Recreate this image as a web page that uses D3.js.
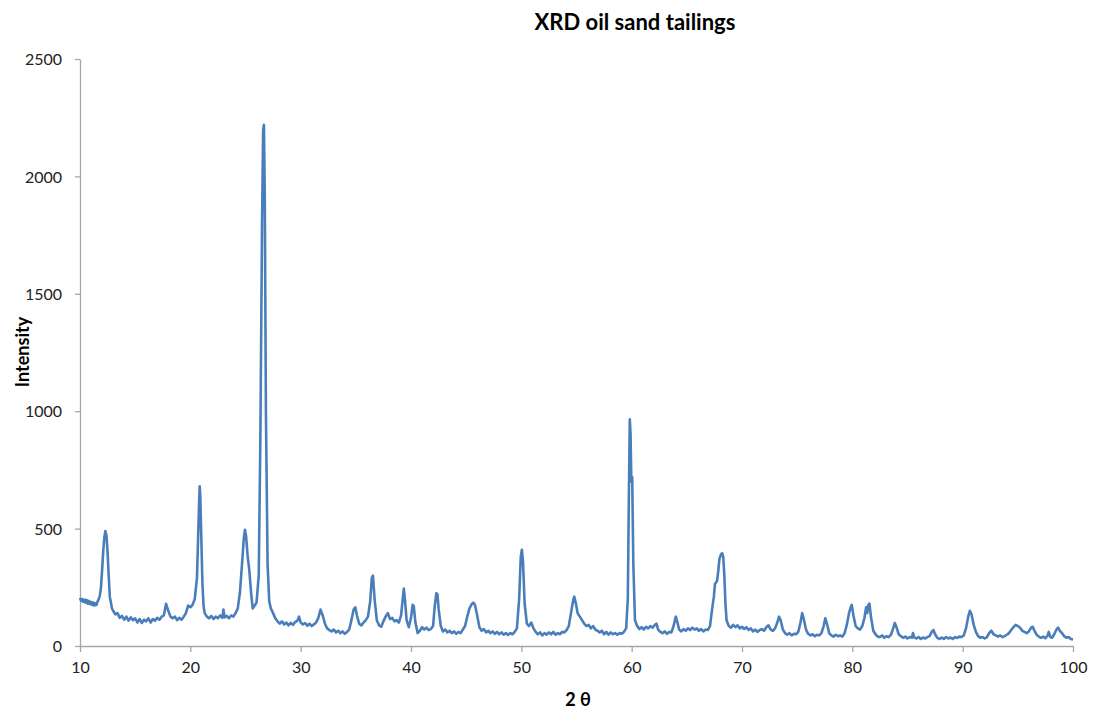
<!DOCTYPE html>
<html>
<head>
<meta charset="utf-8">
<script src="https://cdn.jsdelivr.net/npm/d3@7"></script>
<style>
  body { margin: 0; background: #fff; }
  svg { display: block; font-family: Lato, "Open Sans", sans-serif; }
  .axis path, .axis line { stroke: #a6a6a6; stroke-width: 1.3; }
  .axis text { fill: #222; font-size: 16px; font-family: Lato, "Open Sans", sans-serif; }
</style>
</head>
<body>
<div id="chart"></div>
<script>
/********* data *********/
var twoTheta = [
  10.0,10.1,10.2,10.3,10.4,10.5,10.6,10.7,10.8,10.9,11.0,11.1,11.2,11.3,11.4,11.5,11.6,11.7,11.8,11.9,
  12.0,12.1,12.2,12.3,12.4,12.5,12.6,12.7,12.8,12.9,13.0,13.2,13.4,13.6,13.8,14.0,14.2,14.4,14.6,14.8,
  15.0,15.2,15.4,15.6,15.8,16.0,16.2,16.4,16.6,16.8,17.0,17.2,17.4,17.6,17.8,18.0,18.2,18.4,18.6,18.8,
  19.0,19.2,19.4,19.6,19.8,20.0,20.2,20.4,20.6,20.7,20.8,20.85,20.9,21.0,21.1,21.2,21.3,21.5,21.7,21.9,
  22.1,22.3,22.5,22.7,22.9,23.0,23.1,23.3,23.5,23.7,23.9,24.1,24.3,24.5,24.7,24.85,24.95,25.05,25.2,25.35,
  25.5,25.65,25.8,26.0,26.2,26.35,26.5,26.6,26.67,26.75,26.85,27.0,27.15,27.3,27.5,27.7,27.9,28.1,28.3,28.5,
  28.7,28.9,29.1,29.3,29.5,29.7,29.85,30.0,30.2,30.4,30.6,30.8,31.0,31.2,31.4,31.6,31.8,32.0,32.2,32.4,
  32.6,32.8,33.0,33.2,33.4,33.6,33.8,34.0,34.2,34.4,34.6,34.8,34.95,35.1,35.3,35.5,35.7,35.9,36.1,36.3,
  36.45,36.55,36.7,36.9,37.1,37.3,37.5,37.7,37.9,38.1,38.3,38.5,38.7,38.9,39.1,39.25,39.35,39.45,39.6,39.8,
  40.0,40.15,40.25,40.4,40.6,40.8,41.0,41.2,41.4,41.6,41.8,42.0,42.15,42.3,42.4,42.5,42.7,42.9,43.1,43.3,
  43.5,43.7,43.9,44.1,44.3,44.5,44.7,44.9,45.1,45.3,45.5,45.65,45.8,46.0,46.2,46.4,46.6,46.8,47.0,47.2,
  47.4,47.6,47.8,48.0,48.2,48.4,48.6,48.8,49.0,49.2,49.4,49.6,49.8,49.95,50.05,50.15,50.3,50.5,50.7,50.9,
  51.1,51.3,51.5,51.7,51.9,52.1,52.3,52.5,52.7,52.9,53.1,53.3,53.5,53.7,53.9,54.1,54.3,54.5,54.7,54.8,
  54.95,55.1,55.3,55.5,55.7,55.9,56.1,56.3,56.5,56.7,56.9,57.1,57.3,57.5,57.7,57.9,58.1,58.3,58.5,58.7,
  58.9,59.1,59.3,59.5,59.65,59.75,59.83,59.9,59.97,60.05,60.15,60.3,60.5,60.7,60.9,61.1,61.3,61.5,61.7,61.9,
  62.1,62.25,62.4,62.6,62.8,63.0,63.2,63.4,63.6,63.8,64.0,64.15,64.3,64.5,64.7,64.9,65.1,65.3,65.5,65.7,
  65.9,66.1,66.3,66.5,66.7,66.9,67.1,67.3,67.45,67.55,67.65,67.75,67.85,67.95,68.1,68.2,68.3,68.4,68.5,68.6,
  68.8,69.0,69.2,69.4,69.6,69.8,70.0,70.2,70.4,70.6,70.8,71.0,71.2,71.4,71.6,71.8,72.0,72.2,72.4,72.6,
  72.8,73.0,73.2,73.35,73.5,73.7,73.9,74.1,74.3,74.5,74.7,74.9,75.1,75.3,75.45,75.6,75.8,76.0,76.2,76.4,
  76.6,76.8,77.0,77.2,77.4,77.55,77.7,77.9,78.1,78.3,78.5,78.7,78.9,79.1,79.3,79.5,79.7,79.85,79.95,80.1,
  80.3,80.5,80.7,80.9,81.1,81.25,81.35,81.45,81.55,81.7,81.9,82.1,82.3,82.5,82.7,82.9,83.1,83.3,83.5,83.7,
  83.85,84.0,84.2,84.4,84.6,84.8,85.0,85.2,85.4,85.5,85.6,85.8,86.0,86.2,86.4,86.6,86.8,87.0,87.2,87.35,
  87.5,87.7,87.9,88.1,88.3,88.5,88.7,88.9,89.1,89.3,89.5,89.7,89.9,90.1,90.3,90.5,90.65,90.8,91.0,91.2,
  91.4,91.6,91.8,92.0,92.2,92.4,92.6,92.8,93.0,93.2,93.4,93.6,93.8,94.0,94.2,94.4,94.6,94.8,95.0,95.2,
  95.4,95.6,95.8,96.0,96.2,96.35,96.5,96.7,96.9,97.1,97.3,97.5,97.7,97.8,97.95,98.1,98.3,98.5,98.65,98.8,
  99.0,99.2,99.4,99.6,99.8,100.0
];

var intensity = [
  205,192,200,188,198,185,196,180,192,178,188,175,186,172,182,175,190,200,215,250,
  320,400,460,490,470,400,300,210,185,160,150,135,140,120,128,112,125,108,122,110,
  118,100,115,98,112,105,118,100,115,108,120,112,125,130,180,150,125,118,125,110,
  120,112,125,140,172,165,175,200,290,450,620,680,640,450,260,170,140,125,118,128,
  115,125,118,130,120,155,122,128,118,130,125,140,160,230,360,460,495,470,380,320,
  230,160,170,185,300,900,1800,2200,2220,1900,1000,350,190,160,140,118,105,95,105,92,
  100,88,98,90,102,108,125,100,92,98,86,95,85,92,100,120,155,130,95,75,
  68,62,70,58,65,55,62,52,60,70,110,155,165,130,95,88,100,110,125,190,
  290,300,200,110,88,82,105,125,140,115,120,105,110,100,130,200,245,200,110,80,
  120,175,170,100,55,65,80,70,78,68,72,85,170,225,220,160,85,62,70,58,
  65,55,62,52,60,55,70,85,125,160,178,185,175,130,80,65,72,58,65,55,
  62,52,60,50,58,48,55,47,55,50,60,75,200,380,410,360,180,95,85,100,
  75,60,50,58,45,55,48,58,50,60,48,55,50,60,58,68,85,140,195,210,
  180,140,125,110,95,85,90,75,85,70,65,58,65,50,60,48,58,50,55,48,
  55,52,60,75,200,650,965,900,700,720,350,110,85,72,80,70,82,75,85,78,
  90,95,70,60,55,62,52,60,58,85,125,100,70,62,72,65,75,68,78,70,
  75,65,72,62,70,68,85,160,210,265,270,280,320,370,390,395,380,300,180,110,
  85,78,90,80,88,75,82,72,80,68,75,62,70,60,68,72,65,80,88,70,
  65,75,100,125,110,70,55,48,55,45,52,50,60,100,140,115,70,52,45,50,
  42,48,45,55,85,118,95,55,45,40,48,42,45,40,55,90,140,165,175,130,
  85,75,70,85,120,165,140,175,180,120,65,50,40,38,45,35,42,38,48,75,
  98,80,50,42,35,40,32,38,35,55,38,32,38,30,36,32,38,42,60,68,
  50,35,30,36,30,38,32,36,30,38,34,40,38,45,75,125,150,135,90,60,
  42,35,38,32,38,55,65,50,45,40,45,38,42,48,55,68,80,90,85,78,
  65,60,55,62,78,82,65,48,40,35,40,33,45,60,38,35,50,70,78,65,
  55,42,35,38,30,28
];

var xTicks = [10, 20, 30, 40, 50, 60, 70, 80, 90, 100];
var yTicks = [0, 500, 1000, 1500, 2000, 2500];

var chartTitle = "XRD oil sand tailings";
var xTitle = "2 \u03b8";
var yTitle = "Intensity";

/********* layout *********/
var W = 1112, H = 712;
var margin = {top: 59, right: 39, bottom: 66, left: 80};
var width = W - margin.left - margin.right,
    height = H - margin.top - margin.bottom;

var svg = d3.select("#chart").append("svg")
    .attr("width", W)
    .attr("height", H);

var g = svg.append("g")
    .attr("transform", "translate(" + margin.left + "," + margin.top + ")");

var x = d3.scaleLinear().domain([10, 100]).range([0, width]),
    y = d3.scaleLinear().domain([0, 2500]).range([height, 0]);

// axes
g.append("g")
    .attr("class", "axis axis--y")
    .call(d3.axisLeft(y).tickValues(yTicks).tickFormat(d3.format("d"))
      .tickSize(5).tickPadding(13).tickSizeOuter(0))
  .selectAll("text")
    .attr("dy", "0.35em");

g.append("g")
    .attr("class", "axis axis--x")
    .attr("transform", "translate(0," + height + ")")
    .call(d3.axisBottom(x).tickValues(xTicks).tickSize(6).tickPadding(10).tickSizeOuter(0));

// the trace
var pts = twoTheta.map(function(t, i) { return [t, intensity[i]]; });

var line = d3.line()
    .x(function(d) { return x(d[0]); })
    .y(function(d) { return y(d[1]); });

g.append("path")
    .datum(pts)
    .attr("fill", "none")
    .attr("stroke", "#4a7ebb")
    .attr("stroke-width", 2.6)
    .attr("stroke-linejoin", "round")
    .attr("d", line);

// titles
svg.append("text")
    .attr("x", 635).attr("y", 30)
    .attr("text-anchor", "middle")
    .style("font-size", "22px")
    .style("font-weight", "bold")
    .text(chartTitle);

svg.append("text")
    .attr("x", 578).attr("y", 706)
    .attr("text-anchor", "middle")
    .style("font-size", "18px")
    .style("font-weight", "bold")
    .text(xTitle);

svg.append("text")
    .attr("transform", "translate(29,352) rotate(-90)")
    .attr("text-anchor", "middle")
    .style("font-size", "18px")
    .style("font-weight", "bold")
    .text(yTitle);
</script>
</body>
</html>
